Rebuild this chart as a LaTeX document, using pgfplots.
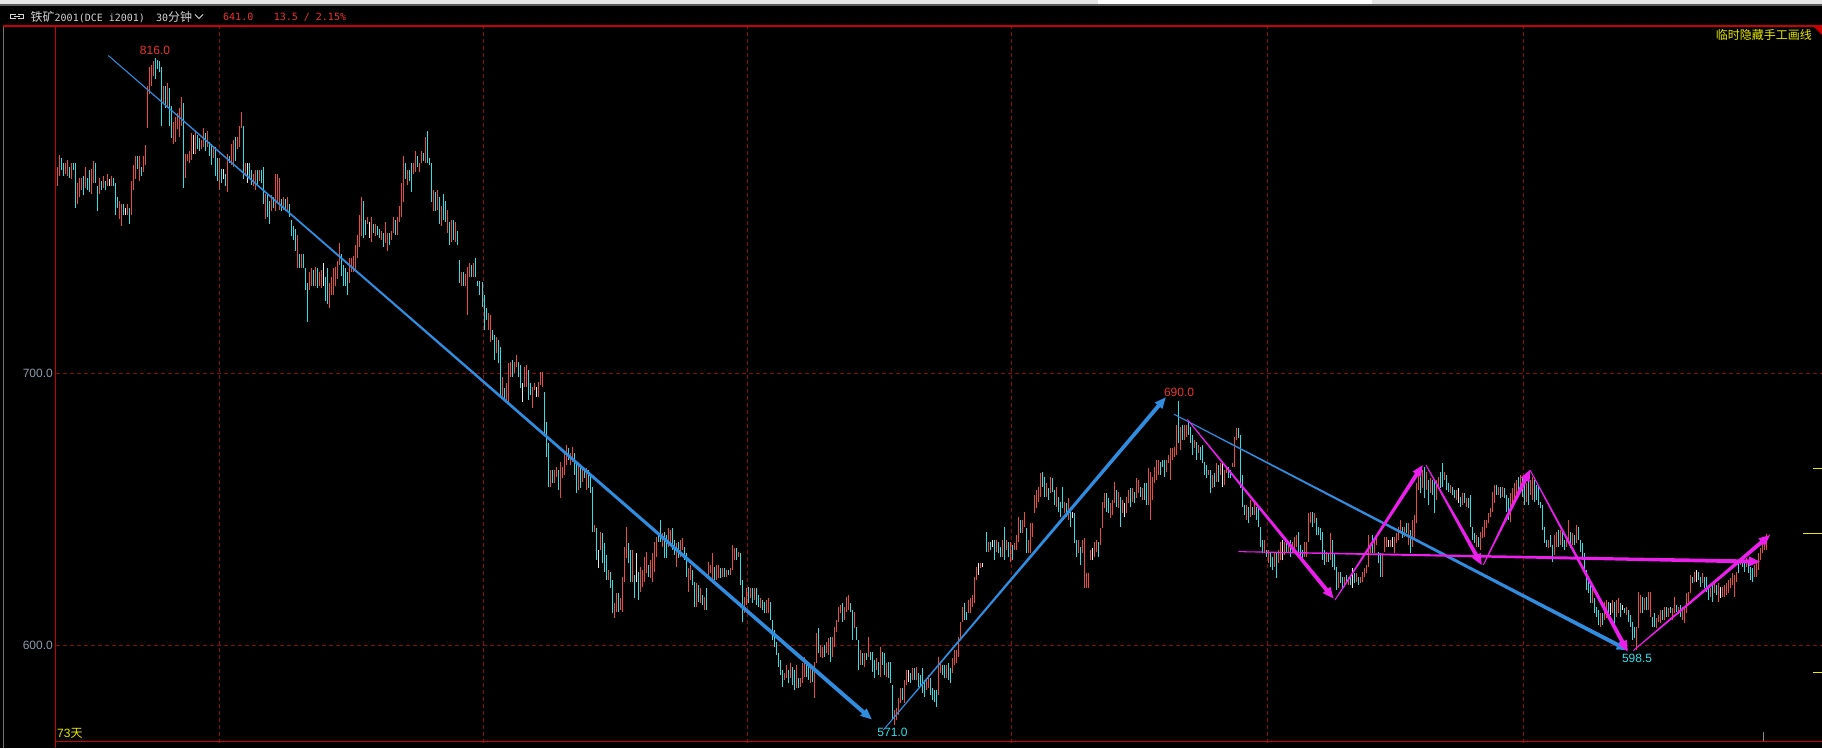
\documentclass[border=0pt]{standalone}
\usepackage{pgfplots}
\usepackage{pgfplotstable}
\pgfplotsset{compat=1.18}
\usetikzlibrary{calc}
\usepackage{fontspec}
\setmainfont{Liberation Sans}
\newfontfamily\cjk{Noto Sans CJK SC}
\newfontfamily\tmono{DejaVu Sans Mono}
\newcommand\ui{\fontsize{12}{14}\selectfont}
\newcommand\tmn{\fontsize{10}{12}\tmono}
\definecolor{upred}{RGB}{230,76,64}
\definecolor{dncyan}{RGB}{50,222,228}
\definecolor{dojiw}{RGB}{232,232,232}
\definecolor{gridred}{RGB}{140,10,10}
\definecolor{axred}{RGB}{205,0,0}
\definecolor{tblue}{RGB}{48,140,222}
\definecolor{tmag}{RGB}{236,30,236}
\definecolor{ylw}{RGB}{232,232,0}
\definecolor{lblgray}{RGB}{140,156,172}
\definecolor{titlegray}{RGB}{212,212,212}
\definecolor{numred}{RGB}{236,50,50}
\definecolor{numcyan}{RGB}{40,226,236}

\pgfplotstableread{
x hi lo c
57 776.2 769.0 1
59 780.5 772.9 1
61 779.5 774.9 0
63 777.5 772.9 0
65 777.5 773.6 1
67 778.8 772.9 1
69 776.2 772.2 0
71 777.5 771.6 1
73 777.5 774.9 0
75 777.5 761.1 0
77 770.3 762.4 1
79 772.2 765.0 1
81 772.2 767.7 1
83 772.9 765.7 0
85 776.2 768.3 1
87 772.2 767.7 0
89 774.9 767.0 0
91 775.5 766.3 1
93 778.4 770.3 1
95 777.5 770.3 0
97 769.0 759.8 0
99 772.2 766.3 1
101 770.9 767.7 0
103 772.9 768.3 1
105 770.9 767.7 0
107 773.6 769.0 1
109 771.6 769.0 2
111 772.9 769.0 1
113 771.9 769.0 0
115 770.3 758.5 0
117 765.0 761.1 0
119 763.7 757.1 1
121 762.4 754.5 1
123 762.4 758.5 0
125 761.1 758.5 2
127 762.4 758.5 1
129 761.1 755.2 0
131 770.9 758.5 1
133 776.8 767.7 1
135 780.1 771.6 1
137 780.1 775.5 0
139 780.1 770.9 1
141 776.2 772.9 0
143 780.1 774.2 1
145 784.1 776.8 1
147 805.7 790.6 1
149 813.0 803.1 1
151 813.6 805.7 1
153 814.9 809.7 1
155 816.0 808.4 0
157 815.6 812.3 0
159 814.9 811.0 0
161 813.0 791.3 0
163 805.7 799.8 1
165 805.7 797.9 0
167 807.0 797.9 1
169 805.1 791.3 0
171 798.5 786.7 0
173 792.6 784.7 1
175 794.6 785.4 1
177 795.9 790.0 1
179 797.9 787.3 1
181 801.8 791.3 1
183 799.8 768.3 0
185 780.8 772.2 1
187 780.8 778.2 1
189 782.1 777.5 1
191 788.7 778.8 1
193 788.0 780.8 2
195 789.3 780.8 1
197 788.0 782.8 0
199 786.7 782.1 0
201 786.0 782.8 1
203 790.6 783.4 1
205 788.7 782.1 0
207 789.3 783.4 1
209 785.4 780.1 0
211 784.7 776.8 0
213 783.4 779.5 1
215 783.4 772.9 0
217 779.5 770.9 0
219 779.5 767.7 1
221 775.5 770.3 0
223 775.5 771.6 2
225 773.6 769.0 0
227 780.8 767.0 1
229 780.1 777.5 0
231 784.7 776.8 1
233 786.0 776.2 1
235 787.3 778.2 0
237 787.3 782.8 1
239 791.3 783.4 1
241 796.5 790.6 1
243 791.3 771.6 0
245 777.5 772.9 1
247 777.5 770.3 2
249 777.5 771.6 0
251 774.9 769.6 0
253 773.6 769.0 1
255 774.9 767.7 1
257 774.9 769.0 0
259 774.9 770.9 1
261 774.9 770.3 0
263 776.2 762.4 0
265 766.3 757.1 1
267 766.3 757.8 0
269 763.7 755.2 0
271 765.7 759.8 1
273 765.0 761.1 0
275 773.6 759.8 1
277 773.6 763.1 1
279 772.2 760.4 1
281 764.4 759.8 0
283 765.0 760.4 1
285 764.4 759.8 0
287 765.0 759.8 1
289 762.4 757.8 0
291 756.5 750.6 0
293 754.5 749.3 0
295 753.2 745.3 0
297 751.2 738.8 1
299 744.0 738.8 0
301 744.0 738.8 1
303 744.0 738.8 0
305 738.8 730.9 0
307 733.5 719.1 0
309 737.5 730.9 1
311 738.8 732.2 1
313 738.1 732.2 0
315 739.4 732.2 1
317 738.8 731.5 0
319 737.5 732.2 1
321 738.1 731.5 1
323 740.7 732.2 2
325 735.5 726.9 0
327 738.8 725.6 0
329 733.5 724.3 1
331 735.5 728.9 1
333 738.8 728.9 1
335 739.4 732.2 1
337 741.4 734.8 1
339 748.0 740.1 1
341 744.0 736.1 0
343 740.1 732.2 0
345 738.8 732.2 0
347 737.5 728.9 0
349 742.7 733.5 1
351 742.7 737.5 1
353 743.4 737.5 1
355 747.3 737.5 1
357 751.2 742.7 1
359 758.5 746.6 1
361 765.0 750.6 1
363 763.7 749.9 0
365 756.5 751.2 0
367 757.8 755.2 1
369 755.8 749.9 2
371 757.8 748.6 1
373 755.2 751.9 0
375 755.2 750.6 1
377 754.5 751.2 0
379 753.2 749.9 0
381 752.6 749.3 1
383 751.9 746.6 0
385 755.8 748.0 1
387 751.9 745.3 1
389 751.9 747.3 0
391 752.6 749.3 1
393 757.8 751.9 1
395 756.5 751.2 0
397 757.8 751.2 1
399 761.7 755.8 1
401 770.3 757.8 1
403 780.1 763.1 1
405 777.5 771.6 0
407 774.9 769.6 1
409 774.9 770.9 0
411 777.5 767.0 0
413 777.5 773.6 1
415 782.1 774.2 1
417 780.1 776.2 0
419 777.5 774.2 1
421 782.1 777.5 1
423 781.4 778.2 0
425 787.3 777.5 1
427 789.3 777.5 0
429 779.5 776.8 0
431 777.5 763.1 0
433 767.7 759.8 1
435 767.0 759.8 0
437 767.7 760.4 1
439 765.0 755.2 0
441 761.7 754.5 1
443 766.3 756.5 0
445 763.7 755.8 0
447 760.4 751.9 1
449 755.8 747.3 0
451 756.5 748.6 1
453 756.5 749.3 0
455 755.8 748.6 1
457 752.6 747.3 0
459 741.8 733.5 0
461 737.5 732.2 1
463 737.5 732.2 0
465 736.8 732.2 1
467 739.4 721.7 1
469 740.7 735.5 1
471 740.1 735.5 0
473 740.7 735.5 1
475 742.7 735.5 0
477 734.2 732.2 0
479 734.2 728.9 0
482 733.9 724.7 0
484 729.0 716.2 0
486 724.1 719.8 0
488 722.3 716.2 1
490 721.7 711.9 1
492 716.2 712.5 0
494 714.3 705.1 0
496 713.7 707.6 1
498 712.5 703.9 0
500 710.0 691.1 0
502 699.0 691.7 1
504 694.7 690.4 0
506 696.6 689.8 1
508 703.9 689.8 1
510 704.5 699.0 1
512 705.1 699.0 0
514 704.5 700.2 1
516 707.0 702.7 1
518 704.5 699.0 0
520 703.3 694.7 0
522 696.6 689.8 2
524 702.7 695.3 1
526 703.3 695.3 1
528 701.5 690.4 0
530 696.6 692.3 0
532 695.3 687.4 1
534 696.6 694.1 1
536 695.3 691.7 2
538 697.2 691.7 1
540 700.9 695.9 1
542 700.9 695.3 1
544 693.5 678.2 0
546 682.5 669.6 0
548 674.5 658.6 0
550 664.7 658.6 1
552 664.7 659.8 0
554 664.7 659.8 1
556 665.9 662.2 1
558 664.7 657.4 0
560 667.8 654.3 1
562 665.9 661.6 1
564 670.8 662.9 1
566 673.9 666.5 1
568 672.7 668.4 0
570 670.8 666.5 1
572 673.3 667.8 1
574 670.8 662.9 0
576 667.2 656.1 0
578 666.5 657.4 1
580 665.3 658.0 0
582 665.3 660.4 1
584 664.7 661.6 0
586 665.3 657.4 1
588 664.7 658.0 0
590 662.9 656.1 0
592 658.6 642.0 0
594 644.5 642.0 1
596 643.3 631.6 0
598 635.3 628.6 2
600 642.0 635.3 1
602 641.4 630.4 0
604 637.7 627.3 0
606 633.5 624.3 0
608 627.9 624.3 1
610 627.3 621.2 0
612 624.3 612.0 0
614 615.7 610.2 1
616 619.4 612.6 1
618 619.4 612.6 0
620 617.5 613.2 1
622 625.5 612.6 1
624 636.5 623.6 1
626 643.9 632.2 1
628 637.7 630.4 0
630 635.3 623.6 0
632 635.3 623.6 1
634 626.1 617.5 0
636 634.1 623.6 2
638 627.3 616.9 0
640 629.2 620.0 1
642 627.9 621.8 1
644 632.8 623.6 1
646 634.7 626.7 1
648 629.8 625.5 0
650 631.6 624.9 1
652 634.1 623.6 1
654 638.4 627.3 1
656 640.2 632.8 1
658 641.4 638.4 0
660 646.3 638.4 0
662 641.4 636.5 1
664 642.0 632.2 0
666 640.8 632.2 0
668 643.3 636.5 1
670 642.7 637.7 1
672 643.3 635.3 0
674 639.0 633.5 0
676 637.7 629.2 1
678 638.4 632.2 0
680 639.0 632.8 1
682 639.6 635.3 1
684 636.5 631.6 0
686 634.1 625.5 0
688 628.6 620.0 1
690 629.8 624.3 1
692 627.9 622.4 0
694 623.6 614.5 0
696 623.0 614.5 1
698 622.4 616.3 0
700 621.2 615.7 1
702 618.7 615.1 0
704 618.1 613.2 1
706 621.2 613.2 0
708 631.0 624.9 1
710 629.8 626.7 1
712 634.1 624.3 1
714 629.2 624.3 0
716 629.8 624.3 1
718 629.8 624.9 1
720 628.6 624.9 0
722 628.6 625.5 1
724 628.6 625.5 0
726 627.9 625.5 1
728 627.9 626.1 0
730 628.6 626.1 1
732 637.1 627.9 1
734 635.9 631.6 1
736 635.9 631.6 0
738 634.7 632.8 1
740 634.1 622.4 0
742 624.3 608.9 0
744 618.1 612.0 1
746 621.2 615.1 1
748 621.8 615.7 0
750 621.2 617.5 1
752 621.2 615.7 0
754 621.2 616.9 1
756 621.2 615.1 0
758 618.7 614.5 0
760 617.5 613.8 1
762 616.9 613.2 0
764 616.3 612.0 0
766 616.9 612.0 1
768 617.5 612.0 1
770 616.3 609.6 0
772 609.6 602.2 0
774 605.9 599.7 0
776 601.6 596.7 0
778 597.3 592.4 0
780 594.8 589.3 0
782 591.2 585.0 0
784 589.9 587.5 1
786 593.0 588.1 1
788 591.2 586.3 0
790 593.6 588.1 1
792 592.4 585.7 0
794 591.2 583.8 0
796 593.0 584.4 1
798 588.1 584.4 0
800 588.1 585.0 1
802 593.6 586.3 1
804 596.1 588.7 1
806 594.2 588.7 0
808 593.0 587.5 0
810 592.4 586.3 1
812 592.4 586.9 0
814 594.2 580.8 1
816 604.6 593.6 1
818 606.5 597.3 0
820 600.4 596.1 1
822 599.7 595.5 1
824 600.4 596.1 0
826 601.6 597.3 1
828 602.8 596.7 1
830 603.4 594.2 0
832 603.4 596.1 1
834 607.1 599.7 1
836 609.6 605.3 1
838 614.5 608.9 1
840 615.1 612.0 1
842 615.7 608.9 0
844 614.5 609.6 1
846 618.1 612.6 1
848 618.7 613.2 1
850 615.7 612.6 0
852 613.2 602.2 0
854 612.6 606.5 1
856 607.1 602.2 0
858 602.2 591.2 0
860 598.5 593.0 1
862 597.3 593.0 0
864 597.3 592.4 1
866 597.3 594.8 0
868 603.4 596.1 1
870 597.9 594.8 0
872 597.9 590.6 0
874 594.8 588.1 0
876 595.5 591.2 1
878 594.2 589.3 0
880 599.7 588.7 1
882 597.9 593.0 0
884 597.3 589.3 0
886 593.6 588.7 1
888 594.2 588.1 0
890 594.2 586.3 0
892 585.7 572.8 0
894 576.5 571.0 1
896 577.1 572.8 1
898 580.8 574.6 1
900 584.4 578.9 1
902 584.4 580.2 0
904 587.5 578.9 1
906 591.2 585.7 1
908 591.2 586.9 2
910 590.0 586.3 0
912 591.8 587.5 1
914 591.8 587.5 0
916 592.4 587.5 1
918 590.0 585.0 0
920 589.3 585.7 0
922 591.8 582.6 0
924 587.5 581.4 0
926 588.1 583.8 1
928 589.3 584.4 1
930 588.1 582.0 0
932 584.4 580.2 0
934 583.8 579.5 0
936 583.8 577.7 0
938 596.1 582.0 1
940 594.2 590.0 1
942 593.0 589.3 0
944 593.0 588.1 0
946 593.0 588.1 1
948 593.6 587.5 0
950 591.8 586.3 0
952 595.5 590.0 1
954 598.5 593.0 1
956 598.5 593.6 1
958 603.4 596.1 1
960 608.9 602.8 1
962 614.5 608.9 1
964 615.7 609.6 0
966 612.6 609.6 0
968 616.9 612.0 1
970 617.5 612.0 1
972 618.8 614.5 1
974 625.5 615.7 1
976 629.2 624.3 1
978 630.4 626.1 2
980 630.4 628.6 1
982 630.4 629.2 2
986 642.0 634.7 0
988 638.4 634.7 1
990 638.4 635.3 0
992 639.0 636.5 2
994 639.0 631.6 0
996 639.0 634.7 1
998 638.4 634.1 0
1000 636.5 632.9 0
1002 639.0 632.9 1
1004 643.9 631.6 0
1006 639.0 635.3 1
1008 638.4 632.9 0
1010 638.4 631.0 1
1012 637.2 631.6 0
1014 637.8 635.3 1
1016 640.8 635.3 1
1018 647.6 638.4 1
1020 646.3 641.4 0
1022 646.3 641.4 1
1024 649.4 643.9 1
1026 643.3 634.1 0
1028 639.0 634.1 1
1030 645.1 634.1 1
1032 645.1 640.2 1
1034 655.5 648.8 1
1036 657.4 650.6 1
1038 658.6 653.1 1
1040 663.5 654.9 1
1042 664.1 658.6 0
1044 662.3 654.9 0
1046 659.8 654.9 1
1048 658.0 653.7 0
1050 662.3 656.1 1
1052 661.6 656.8 0
1054 657.4 651.8 0
1056 658.6 651.2 1
1058 654.9 649.4 0
1060 653.1 647.6 0
1062 658.6 650.6 0
1064 653.1 648.8 1
1066 652.5 647.6 0
1068 654.3 646.3 1
1070 650.6 643.9 0
1072 649.4 646.9 2
1074 648.8 637.8 0
1076 639.0 632.9 0
1078 639.0 634.1 1
1080 636.5 629.8 0
1082 639.0 634.1 1
1084 639.6 621.2 1
1086 626.7 621.2 1
1088 626.7 621.2 1
1090 635.3 631.6 1
1092 635.9 631.6 2
1094 638.4 632.9 1
1096 639.0 634.7 1
1098 638.4 632.9 0
1100 643.3 637.2 1
1102 653.1 643.3 1
1104 656.1 650.6 1
1106 656.1 649.4 0
1108 654.3 648.8 0
1110 652.5 646.9 1
1112 653.7 648.2 1
1114 660.4 652.5 1
1116 657.4 651.2 0
1118 656.8 650.6 1
1120 654.9 643.9 0
1122 653.7 648.8 1
1124 652.5 647.6 2
1126 654.9 648.8 1
1128 657.4 652.5 1
1130 658.0 651.2 0
1132 658.0 653.1 1
1134 656.8 652.5 0
1136 661.6 654.3 1
1138 661.0 656.1 1
1140 658.6 654.9 0
1142 658.0 653.7 1
1144 659.8 653.7 0
1146 659.8 651.8 0
1148 665.3 651.8 1
1150 664.1 646.3 1
1152 662.3 653.7 1
1154 665.9 659.8 1
1156 668.4 661.0 1
1158 668.4 662.9 1
1160 667.8 662.9 0
1162 668.4 665.9 0
1164 668.4 662.3 0
1166 668.4 664.1 1
1168 670.2 667.2 1
1170 672.7 661.0 1
1172 672.7 668.4 1
1174 673.3 669.6 1
1176 681.3 670.2 1
1178 690.0 674.5 0
1180 680.6 672.1 1
1182 681.3 675.7 0
1184 681.3 675.7 1
1186 681.3 677.0 1
1188 682.5 677.6 0
1190 680.6 674.5 0
1192 677.6 670.2 0
1194 675.7 672.7 1
1196 675.1 668.4 0
1198 673.9 670.8 1
1200 673.3 668.4 0
1202 673.9 667.2 0
1204 667.8 662.9 0
1206 666.5 661.6 0
1208 664.7 662.9 1
1210 664.7 656.1 0
1212 662.9 658.0 1
1214 663.5 658.6 0
1216 667.2 660.4 1
1218 666.5 660.4 0
1220 667.2 662.9 1
1222 667.8 658.6 2
1224 664.7 659.2 1
1226 665.9 663.5 1
1228 665.9 661.6 0
1230 664.7 661.6 0
1232 667.2 665.9 1
1234 677.0 665.9 1
1236 680.0 675.7 1
1238 680.0 676.4 0
1240 677.6 658.0 0
1242 662.9 651.2 0
1244 651.8 648.2 0
1246 651.8 646.3 1
1248 651.2 645.1 0
1250 653.7 647.6 1
1252 651.2 648.2 0
1254 653.7 648.2 1
1256 651.2 646.3 0
1258 650.6 643.9 0
1260 643.9 636.5 0
1262 639.0 634.1 0
1264 639.0 634.1 1
1266 635.3 632.9 0
1268 635.3 630.4 1
1270 634.7 629.2 0
1272 632.9 627.9 0
1274 634.1 629.2 1
1276 634.1 624.9 0
1278 635.3 630.4 1
1280 638.4 631.6 1
1282 639.0 631.6 2
1284 638.4 633.5 1
1286 637.8 634.1 0
1288 638.4 634.7 1
1290 639.0 632.9 0
1292 638.4 634.7 1
1294 640.2 635.3 1
1296 640.8 636.5 1
1298 642.0 633.5 0
1300 637.2 631.6 0
1302 635.3 631.6 0
1304 638.4 632.9 1
1306 638.4 632.9 1
1308 648.8 638.4 1
1310 649.4 645.1 1
1312 649.4 643.9 0
1314 648.8 645.1 1
1316 646.9 640.8 0
1318 643.9 640.8 0
1320 643.3 639.0 0
1322 642.0 631.6 0
1324 635.3 629.8 0
1326 634.7 631.0 1
1328 634.1 631.0 0
1330 641.4 631.6 1
1332 639.0 629.2 0
1334 634.1 627.9 0
1336 629.2 620.6 0
1338 627.3 621.2 1
1340 627.3 623.0 0
1342 625.5 621.2 0
1344 625.5 621.8 1
1346 626.1 623.0 0
1348 625.5 622.4 1
1350 626.1 622.4 0
1352 628.6 621.2 2
1354 626.7 623.0 0
1356 626.7 623.7 1
1358 625.5 622.4 0
1360 625.5 623.0 1
1362 627.3 623.7 1
1364 628.6 625.5 1
1366 629.8 626.7 1
1368 640.8 629.2 1
1370 637.8 634.1 1
1372 640.8 634.1 0
1374 640.2 634.1 1
1376 640.8 637.1 1
1378 634.7 630.4 0
1380 634.1 625.5 0
1382 633.5 625.5 1
1384 640.2 634.7 1
1386 640.2 636.5 1
1388 639.0 636.5 2
1390 639.0 636.5 1
1392 640.2 636.5 2
1394 640.2 634.1 1
1396 641.4 637.8 1
1398 643.9 639.0 1
1400 646.3 641.4 1
1402 643.9 639.6 0
1404 643.9 640.2 1
1406 645.1 641.4 0
1408 645.1 637.1 1
1410 642.7 634.1 0
1412 646.3 636.5 1
1414 648.2 639.0 1
1416 659.8 645.1 1
1418 664.1 657.4 1
1420 665.9 656.1 0
1422 664.7 658.0 1
1424 665.9 654.3 0
1426 664.1 657.4 1
1428 661.0 651.8 0
1430 661.6 656.1 1
1432 661.0 655.5 0
1434 661.0 648.8 0
1436 661.0 653.7 1
1438 662.3 658.0 1
1440 664.1 658.0 0
1442 667.2 658.6 0
1444 664.1 661.0 1
1446 662.9 657.4 0
1448 659.8 656.7 0
1450 659.2 656.1 1
1452 658.6 655.5 0
1454 657.4 654.3 0
1456 657.4 653.7 1
1458 658.0 652.5 2
1460 654.9 651.2 0
1462 656.1 651.8 1
1464 656.1 652.5 0
1466 654.3 651.2 1
1468 654.3 650.6 0
1470 655.5 643.9 0
1472 643.9 639.0 0
1474 641.4 637.8 0
1476 640.8 636.5 1
1478 640.2 636.5 0
1480 642.0 635.3 1
1482 643.9 639.6 1
1484 646.3 640.2 1
1486 646.3 643.3 1
1488 648.8 645.1 1
1490 650.6 647.6 1
1492 656.7 649.4 1
1494 659.2 652.5 1
1496 659.2 655.5 0
1498 658.6 655.5 1
1500 658.6 654.3 0
1502 658.6 654.9 1
1504 658.0 654.3 0
1506 655.5 649.4 0
1508 654.3 646.3 0
1510 656.1 645.7 1
1512 658.0 651.2 1
1514 659.8 654.3 1
1516 661.0 655.5 1
1518 662.3 656.7 0
1520 662.9 658.6 1
1522 661.6 654.9 0
1524 659.8 651.8 0
1526 659.8 653.1 1
1528 661.6 651.8 0
1530 661.0 655.5 1
1532 662.3 653.7 1
1534 661.0 653.1 0
1536 659.2 653.7 0
1538 659.2 651.8 0
1540 653.1 650.6 0
1542 651.8 642.7 0
1544 643.9 637.8 0
1546 639.0 636.5 0
1548 639.0 635.9 1
1550 640.8 636.5 0
1552 637.1 631.0 0
1554 640.8 633.5 1
1556 642.0 636.5 1
1558 642.7 636.5 0
1560 642.7 637.1 1
1562 642.0 636.5 0
1564 639.0 635.3 0
1566 640.2 636.5 1
1568 646.3 639.0 1
1570 642.0 635.9 0
1572 641.4 637.1 1
1574 640.8 637.1 0
1576 644.5 637.8 1
1578 643.9 639.0 0
1580 639.0 634.7 0
1582 637.8 632.2 0
1584 634.1 626.7 0
1586 627.9 620.6 0
1588 624.3 619.4 0
1590 623.7 615.7 0
1592 621.8 615.7 1
1594 617.5 612.0 0
1596 614.5 610.8 0
1598 613.2 607.7 0
1600 612.0 607.1 1
1602 612.0 607.7 0
1604 616.3 609.6 1
1606 616.9 610.2 1
1608 616.3 610.8 0
1610 615.7 611.4 2
1612 616.9 612.0 1
1614 616.3 607.7 0
1616 616.9 610.8 1
1618 617.5 612.0 1
1620 615.7 610.8 0
1622 615.1 613.2 2
1624 613.9 612.0 0
1626 614.5 611.4 1
1628 613.2 609.0 0
1630 611.4 607.1 0
1632 609.0 602.2 0
1634 607.1 602.8 0
1636 607.1 598.5 1
1638 620.0 606.5 1
1640 618.8 612.0 1
1642 618.1 612.0 0
1644 617.5 613.2 1
1646 618.1 613.2 0
1648 620.0 613.2 1
1650 620.0 610.8 1
1652 610.8 607.1 0
1654 612.0 607.1 0
1656 610.2 606.5 1
1658 611.4 609.0 1
1660 613.2 608.3 1
1662 613.2 609.6 0
1664 614.5 609.6 1
1666 614.5 610.8 0
1668 613.9 610.8 1
1670 614.5 612.0 0
1672 613.9 609.6 1
1674 618.1 612.0 1
1676 615.1 612.6 0
1678 614.5 612.0 1
1680 615.1 610.8 0
1682 614.5 609.6 1
1684 614.5 608.3 1
1686 619.4 612.0 1
1688 620.0 616.3 1
1690 626.1 619.4 1
1692 625.5 623.0 0
1694 627.3 623.7 1
1696 627.9 623.7 2
1698 627.3 624.3 0
1700 625.5 621.8 0
1702 626.7 623.0 1
1704 625.5 621.2 0
1706 625.5 620.0 0
1708 622.4 616.9 0
1710 621.2 618.1 1
1712 622.4 616.3 0
1714 623.0 619.4 1
1716 622.4 618.8 0
1718 623.0 616.3 1
1720 621.8 617.5 2
1722 621.8 618.1 1
1724 622.4 618.1 1
1726 623.0 618.8 1
1728 624.3 619.4 1
1730 624.9 621.2 1
1732 626.7 622.4 1
1734 626.1 618.1 1
1736 627.3 623.7 1
1738 631.6 626.7 0
1740 632.2 629.8 1
1742 632.2 629.2 0
1744 631.6 627.3 0
1746 632.2 629.2 1
1748 631.0 626.7 0
1750 629.2 624.3 0
1752 628.6 623.7 0
1754 629.8 625.5 1
1756 631.0 625.5 1
1758 634.1 627.9 1
1760 635.9 631.6 1
1762 637.8 634.1 1
1764 639.0 635.3 1
1766 641.0 635.3 1
}\candles

\newcommand{\taparrow}[3]{%
  \coordinate (tH) at ($(#3)!11pt!(#2)$);
  \fill[#1] ($(#2)!0.5pt!90:(#3)$) -- ($(tH)!2pt!90:(#3)$) -- ($(tH)!5pt!90:(#3)$) -- (#3)
    -- ($(tH)!5pt!-90:(#3)$) -- ($(tH)!2pt!-90:(#3)$) -- ($(#2)!0.5pt!-90:(#3)$) -- cycle;}

\begin{document}
\begin{tikzpicture}[x=1pt,y=1pt]
\useasboundingbox (0,0) rectangle (1822,748);
\fill[black] (0,0) rectangle (1822,748);
% window strip at top
\fill[black!10] (0,743.5) rectangle (1822,748);
\fill[white] (1098,743.5) rectangle (1372,748);
\fill[black!65] (0,742.3) rectangle (1822,743.5);
% grid
\foreach \gx in {219.5,483.5,747.5,1011.5,1267.5,1523.5}
  \draw[gridred, line width=1pt, dash pattern=on 4pt off 3pt] (\gx,5) -- (\gx,721);
\foreach \gy in {374.5,102.5}
  \draw[gridred, line width=1pt, dash pattern=on 4pt off 3pt] (56,\gy) -- (1822,\gy);
% frame
\draw[black!55, line width=1pt] (3,0) -- (3,722);
\draw[axred, line width=1.2pt] (3,722) -- (1822,722);
\draw[axred, line width=1pt] (55.5,0) -- (55.5,722);
\draw[axred, line width=1pt] (55.5,7) -- (1822,7);
\draw[black!45, line width=1pt] (1763,7) -- (1763,16);
% right side yellow ticks
\draw[ylw, line width=1pt] (1813,280) -- (1822,280);
\draw[ylw, line width=1pt] (1803,215) -- (1822,215);
\draw[ylw, line width=1pt] (1813,76) -- (1822,76);

\begin{axis}[at={(0pt,0pt)}, anchor=south west, scale only axis,
  width=1822pt, height=748pt, xmin=0, xmax=1822, ymin=562.5, ymax=837.5,
  hide axis, clip=false]
\addplot[draw=none, mark=none, forget plot, restrict expr to domain={\thisrow{c}}{1:1},
  error bars/.cd, y dir=plus, y explicit, error mark=none,
  error bar style={draw=upred, line width=1pt}]
  table[x=x, y=lo, y error expr=\thisrow{hi}-\thisrow{lo}] {\candles};
\addplot[draw=none, mark=none, forget plot, restrict expr to domain={\thisrow{c}}{0:0},
  error bars/.cd, y dir=plus, y explicit, error mark=none,
  error bar style={draw=dncyan, line width=1pt}]
  table[x=x, y=lo, y error expr=\thisrow{hi}-\thisrow{lo}] {\candles};
\addplot[draw=none, mark=none, forget plot, restrict expr to domain={\thisrow{c}}{2:2},
  error bars/.cd, y dir=plus, y explicit, error mark=none,
  error bar style={draw=dojiw, line width=1pt}]
  table[x=x, y=lo, y error expr=\thisrow{hi}-\thisrow{lo}] {\candles};
% trend line anchors
\coordinate (b1a) at (axis cs:108.3,817.1);
\coordinate (b1t) at (axis cs:871.7,573.05);
\coordinate (b2a) at (axis cs:883.3,569.1);
\coordinate (b2t) at (axis cs:1165.7,691.4);
\coordinate (b3a) at (axis cs:1174,685.2);
\coordinate (b3t) at (axis cs:1627.7,598.5);
\coordinate (m1a) at (axis cs:1187.3,683.3);
\coordinate (m1t) at (axis cs:1333.5,617.5);
\coordinate (m2a) at (axis cs:1335,616.9);
\coordinate (m2t) at (axis cs:1422.7,666.5);
\coordinate (m3a) at (axis cs:1426,666.5);
\coordinate (m3t) at (axis cs:1481.7,629.8);
\coordinate (m4a) at (axis cs:1483.3,629.8);
\coordinate (m4t) at (axis cs:1530,664.7);
\coordinate (m5a) at (axis cs:1530,664.7);
\coordinate (m5t) at (axis cs:1627.7,597.9);
\coordinate (m6a) at (axis cs:1633.3,598.3);
\coordinate (m6t) at (axis cs:1770,640.8);
\coordinate (mha) at (axis cs:1238.3,634.7);
\coordinate (mht) at (axis cs:1760,631.0);
% extreme labels
\node[inner sep=0, text=numred, font=\ui] at (axis cs:155,819.1) {816.0};
\node[inner sep=0, text=numred, font=\ui] at (axis cs:1179,693.4) {690.0};
\node[inner sep=0, text=numcyan, font=\ui] at (axis cs:892.5,568.4) {571.0};
\node[inner sep=0, text=numcyan, font=\ui] at (axis cs:1637,595.4) {598.5};
\end{axis}

% hand-drawn trend arrows
\taparrow{tblue}{b1a}{b1t}
\taparrow{tblue}{b2a}{b2t}
\taparrow{tblue}{b3a}{b3t}
\taparrow{tmag}{mha}{mht}
\taparrow{tmag}{m1a}{m1t}
\taparrow{tmag}{m2a}{m2t}
\taparrow{tmag}{m3a}{m3t}
\taparrow{tmag}{m4a}{m4t}
\taparrow{tmag}{m5a}{m5t}
\taparrow{tmag}{m6a}{m6t}

% price scale labels
\node[anchor=east, inner sep=0, text=lblgray, font=\ui] at (53,375) {700.0};
\node[anchor=east, inner sep=0, text=lblgray, font=\ui] at (53,103) {600.0};

% title bar
\draw[titlegray, line width=1pt] (16,729) -- (10.5,729) -- (10.5,733.5) -- (16,733.5);
\draw[titlegray, line width=1pt] (18,729) -- (23.5,729) -- (23.5,733.5) -- (18,733.5);
\draw[titlegray, line width=1pt] (14,731.2) -- (20,731.2);
\node[anchor=west, inner sep=0, text=titlegray] at (30.5,731) {{\ui\cjk 铁矿}{\tmn 2001(DCE i2001)}};
\node[anchor=west, inner sep=0, text=titlegray] at (155.8,731) {{\tmn 30}{\ui\cjk 分钟}};
\draw[titlegray, line width=1pt] (195,733.5) -- (199,729.5) -- (203,733.5);
\node[anchor=west, inner sep=0, text=numred] at (223,731) {\tmn 641.0};
\node[anchor=west, inner sep=0, text=numred] at (273.6,731) {\tmn 13.5 / 2.15\%};

% top-right and bottom notes
\node[anchor=east, inner sep=0, text=ylw, font=\ui\cjk] at (1812,713) {临时隐藏手工画线};
\fill[axred] (1813,722) -- (1822,722) -- (1822,713) -- cycle;
\node[anchor=west, inner sep=0, text=ylw, font=\ui] at (57,15) {73{\cjk 天}};
\end{tikzpicture}
\end{document}
